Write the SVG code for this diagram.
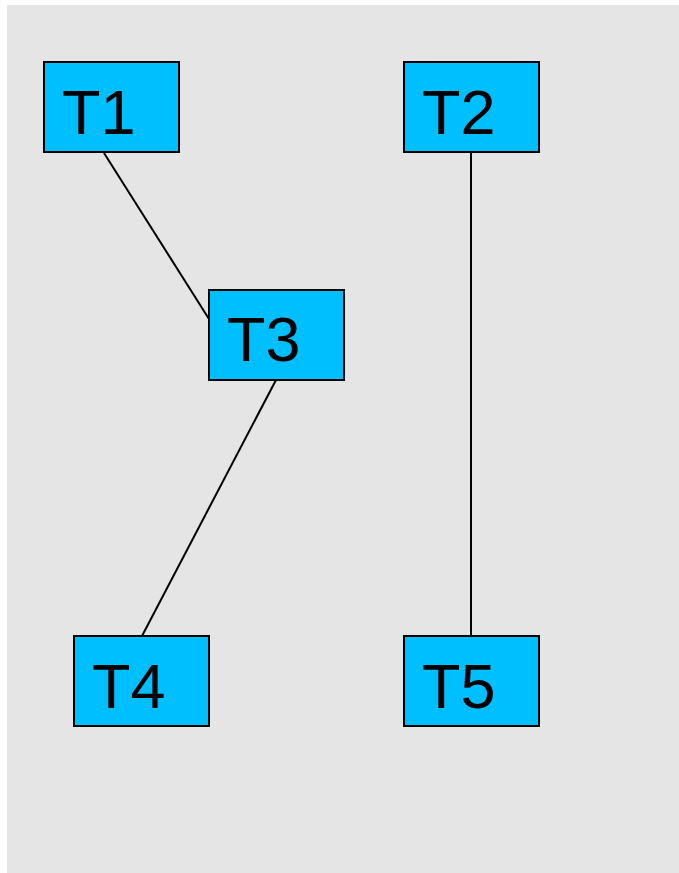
<svg xmlns="http://www.w3.org/2000/svg" width="679" height="873" viewBox="0 0 679 873">
<style>
.node rect{fill:#00BFFF;stroke:#000;stroke-width:2}
.node text{font-family:"Liberation Sans",Arial,sans-serif;font-size:63px;fill:#000}
.edges line{stroke:#000;stroke-width:2}
</style>
<rect x="7" y="5" width="672" height="868" fill="#E5E5E5"/>
<g class="edges" id="edges">
<line x1="104" y1="153" x2="209" y2="319"/>
<line x1="276" y1="380" x2="142" y2="636"/>
<line x1="471" y1="152" x2="471" y2="636"/>
</g>
<g class="node" id="T1"><rect x="44" y="62" width="135" height="90"/><text x="62" y="134">T1</text></g>
<g class="node" id="T2"><rect x="404" y="62" width="135" height="90"/><text x="422" y="134">T2</text></g>
<g class="node" id="T3"><rect x="209" y="290" width="135" height="90"/><text x="227" y="361">T3</text></g>
<g class="node" id="T4"><rect x="74" y="636" width="135" height="90"/><text x="92" y="708">T4</text></g>
<g class="node" id="T5"><rect x="404" y="636" width="135" height="90"/><text x="422" y="708">T5</text></g>
</svg>
